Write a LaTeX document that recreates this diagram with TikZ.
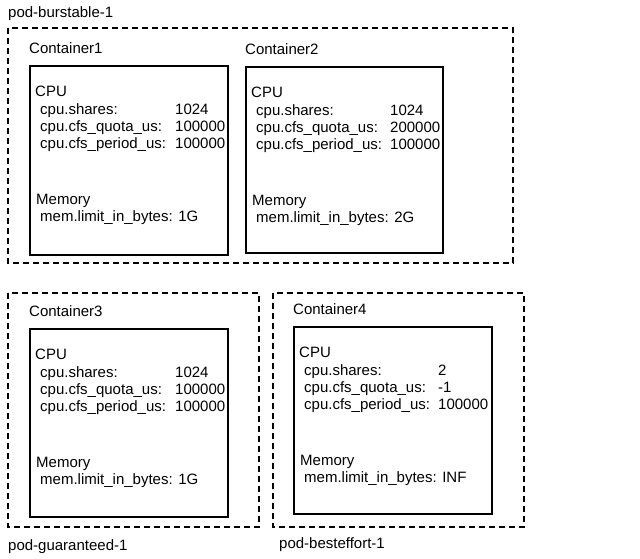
\documentclass[tikz,border=0pt]{standalone}
\usepackage{fontspec}
\setmainfont{Liberation Sans}
\usetikzlibrary{positioning,calc}

\tikzset{
  podbox/.style={line width=1.5pt, dash pattern=on 6pt off 4pt},
  cbox/.style={line width=1.7pt},
  txt/.style={anchor=base west, inner sep=0pt, font=\fontsize{15}{17}\selectfont},
}

\begin{document}
\begin{tikzpicture}[x=1pt,y=-1pt]

    \useasboundingbox (0,0) rectangle (640,558);

    % pods
    \draw[podbox] (8,28) rectangle (513,263);
    \node[txt] (pod_burstable) at (8,17) {pod-burstable-1};

    \draw[podbox] (8,293) rectangle (259,527);
    \node[txt] (pod_guaranteed) at (8,550) {pod-guaranteed-1};

    \draw[podbox] (273,293) rectangle (524,527);
    \node[txt] (pod_besteffort) at (279,548) {pod-besteffort-1};

    % containers
    \foreach \n/\bx/\by/\ex/\ey/\vx/\sh/\qu/\pe/\me in {
        1/30/66/228/255/175/1024/100000/100000/1G,
        2/246/67/443/253/390/1024/200000/100000/2G,
        3/30/329/228/517/175/1024/100000/100000/1G,
        4/294/327/492/514/438/2/-1/100000/INF}{
      \draw[cbox] (\bx,\by) rectangle (\ex,\ey);
      \node[txt] (title\n) at (\bx-1,\by-13) {Container\n};
      \node[txt] (cpu\n) at (\bx+5,\by+30.5) {CPU};
      \node[txt] (shares\n) at (\bx+10,\by+48) {cpu.shares:};
      \node[txt] (quota\n) at (\bx+10,\by+65) {cpu.cfs\_quota\_us:};
      \node[txt] (period\n) at (\bx+10,\by+82) {cpu.cfs\_period\_us:};
      \node[txt] (sharesval\n) at (\vx,\by+48) {\sh};
      \node[txt] (quotaval\n) at (\vx,\by+65) {\qu};
      \node[txt] (periodval\n) at (\vx,\by+82) {\pe};
      \node[txt] (memory\n) at (\bx+6,\by+138) {Memory};
      \node[txt] (limit\n) at (\bx+10,\by+155) {mem.limit\_in\_bytes: \me};
    }
\end{tikzpicture}
\end{document}
